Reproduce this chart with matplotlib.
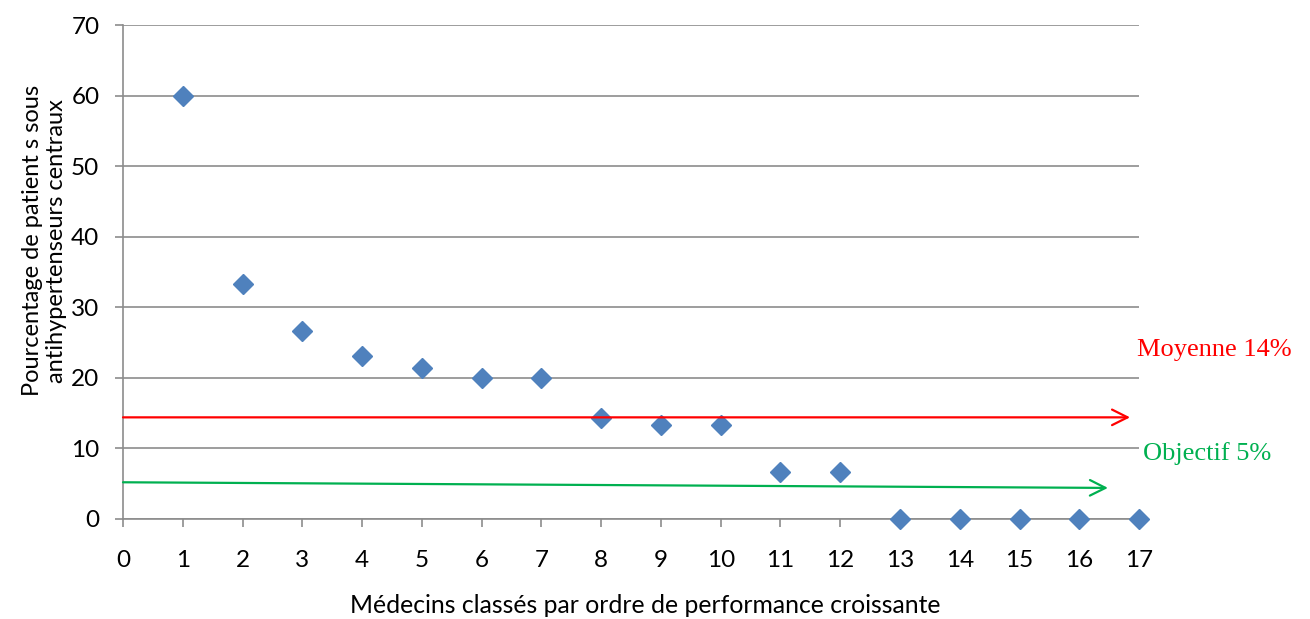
import matplotlib
matplotlib.use("Agg")
import matplotlib.pyplot as plt

# données
medecins = list(range(1, 18))
pourcentages = [60, 33.3, 26.7, 23.1, 21.4, 20, 20, 14.3, 13.3, 13.3,
                6.7, 6.7, 0, 0, 0, 0, 0]
moyenne = 14.4
objectif_debut = 5.2
objectif_fin = 4.4

plt.rcParams['font.family'] = ['Lato', 'DejaVu Sans']

fig = plt.figure(figsize=(13.1, 6.19), dpi=100)
ax = fig.add_axes([0.0939, 0.1616, 0.7756, 0.798])

ax.plot(medecins, pourcentages, linestyle='none', marker='D',
        markersize=10.5, color='#4F81BD', markeredgecolor='#4F81BD',
        zorder=3, clip_on=False)

ax.set_xlim(0, 17)
ax.set_ylim(0, 70)
ax.set_xticks(range(0, 18))
ax.set_yticks(range(0, 71, 10))
ax.grid(True, axis='y', color='#8C8C8C', linewidth=1.2)
ax.set_axisbelow(True)

for side in ['top', 'right']:
    ax.spines[side].set_visible(False)
for side in ['left', 'bottom']:
    ax.spines[side].set_color('#8C8C8C')
    ax.spines[side].set_linewidth(1.2)
ax.tick_params(axis='both', colors='#8C8C8C', labelcolor='black',
               labelsize=17.5, length=6, width=1.2)
ax.tick_params(axis='x', pad=16)
ax.tick_params(axis='y', pad=11)

# flèches moyenne et objectif
ax.annotate('', xy=(16.85, moyenne), xytext=(0, moyenne),
            arrowprops=dict(arrowstyle='->', color='#FF0000', lw=1.6,
                            mutation_scale=28, shrinkA=0, shrinkB=0))
ax.annotate('', xy=(16.48, objectif_fin), xytext=(0, objectif_debut),
            arrowprops=dict(arrowstyle='->', color='#00B050', lw=1.6,
                            mutation_scale=28, shrinkA=0, shrinkB=0))

fig.text(0.868, 0.4346, 'Moyenne 14%', color='#FF0000', fontsize=19,
         family='Liberation Serif', va='center', ha='left')
fig.text(0.8725, 0.268, 'Objectif 5%', color='#00B050', fontsize=19,
         family='Liberation Serif', va='center', ha='left')

ax.set_xlabel('Médecins classés par ordre de performance croissante',
              fontsize=17.8)
ax.xaxis.set_label_coords(0.514, -0.152)
ax.set_ylabel('Pourcentage de patient s sous\nantihypertenseurs centraux',
              fontsize=17)
ax.yaxis.set_label_coords(-0.055, 0.563)

plt.savefig('out.png', dpi=100)
